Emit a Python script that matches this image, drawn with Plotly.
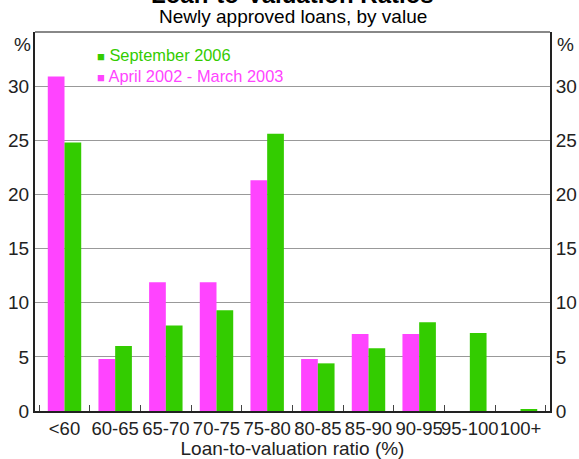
import plotly.graph_objects as go

categories = ["<60", "60-65", "65-70", "70-75", "75-80", "80-85", "85-90", "90-95", "95-100", "100+"]
april_2002_march_2003 = [30.9, 4.8, 11.9, 11.9, 21.3, 4.8, 7.1, 7.1, 0, 0]
september_2006 = [24.8, 6.0, 7.9, 9.3, 25.6, 4.4, 5.8, 8.2, 7.2, 0.15]
y_ticks = [0, 5, 10, 15, 20, 25, 30]
series_names = ["September 2006", "April 2002 - March 2003"]

PINK = "#FF44FF"
GREEN = "#33CC00"
FONT = "Liberation Sans, Arial, sans-serif"

fig = go.Figure()
fig.add_trace(go.Bar(x=categories, y=april_2002_march_2003, name=series_names[1],
                     marker=dict(color=PINK, line=dict(width=0))))
fig.add_trace(go.Bar(x=categories, y=september_2006, name=series_names[0],
                     marker=dict(color=GREEN, line=dict(width=0))))
fig.add_trace(go.Scatter(x=categories, y=[None] * len(categories), yaxis="y2",
                         showlegend=False, hoverinfo="skip", mode="markers"))

legend_annots = []
for name, color, ypos in [(series_names[0], GREEN, 0.939), (series_names[1], PINK, 0.884)]:
    legend_annots.append(dict(
        text=f"<span style='font-size:13px'>■</span> {name}", xref="paper", yref="paper",
        x=0.116, y=ypos, xanchor="left", yanchor="middle", showarrow=False,
        font=dict(size=16.4, color=color)))

fig.update_layout(
    width=579, height=459,
    margin=dict(l=35, r=29, t=32, b=48, autoexpand=False),
    paper_bgcolor="white", plot_bgcolor="white",
    font=dict(family=FONT, size=16, color="#222222"),
    barmode="group", bargap=0.34, bargroupgap=0,
    showlegend=False,
    xaxis=dict(type="category", showline=True, linecolor="#222222", linewidth=2,
               ticks="inside", tickson="boundaries", ticklen=6, tickcolor="#444444",
               showgrid=False, mirror=False, tickangle=0, automargin=False,
               title=dict(text="Loan-to-valuation ratio (%)", font=dict(size=19), standoff=2),
               tickfont=dict(size=18.5)),
    yaxis=dict(range=[0, 35], tickvals=y_ticks, showgrid=True, gridcolor="#999999",
               gridwidth=1, showline=True, linecolor="#222222", linewidth=2,
               zeroline=False, ticks="", tickfont=dict(size=19), automargin=False),
    yaxis2=dict(range=[0, 35], tickvals=y_ticks, overlaying="y", side="right",
                showgrid=False, showline=True, linecolor="#222222", linewidth=2,
                zeroline=False, ticks="", tickfont=dict(size=19), automargin=False),
    shapes=[dict(type="line", xref="paper", yref="paper", x0=0, x1=1, y0=1, y1=1,
                 line=dict(color="#888888", width=2))],
    annotations=[
        dict(text="<b>Loan-to-Valuation Ratios</b>", xref="paper", yref="paper",
             x=0.5, y=1.098, xanchor="center", yanchor="middle", showarrow=False,
             font=dict(size=24, color="#000000")),
        dict(text="Newly approved loans, by value", xref="paper", yref="paper",
             x=0.5, y=1.041, xanchor="center", yanchor="middle", showarrow=False,
             font=dict(size=19, color="#000000")),
        dict(text="%", xref="paper", yref="paper", x=-0.025, y=0.968,
             xanchor="center", yanchor="middle", showarrow=False, font=dict(size=19)),
        dict(text="%", xref="paper", yref="paper", x=1.031, y=0.968,
             xanchor="center", yanchor="middle", showarrow=False, font=dict(size=19)),
    ] + legend_annots,
)

fig.write_html("out.html", config={"displayModeBar": False},
               post_script="document.body.style.margin='0';document.body.style.overflow='hidden';")
